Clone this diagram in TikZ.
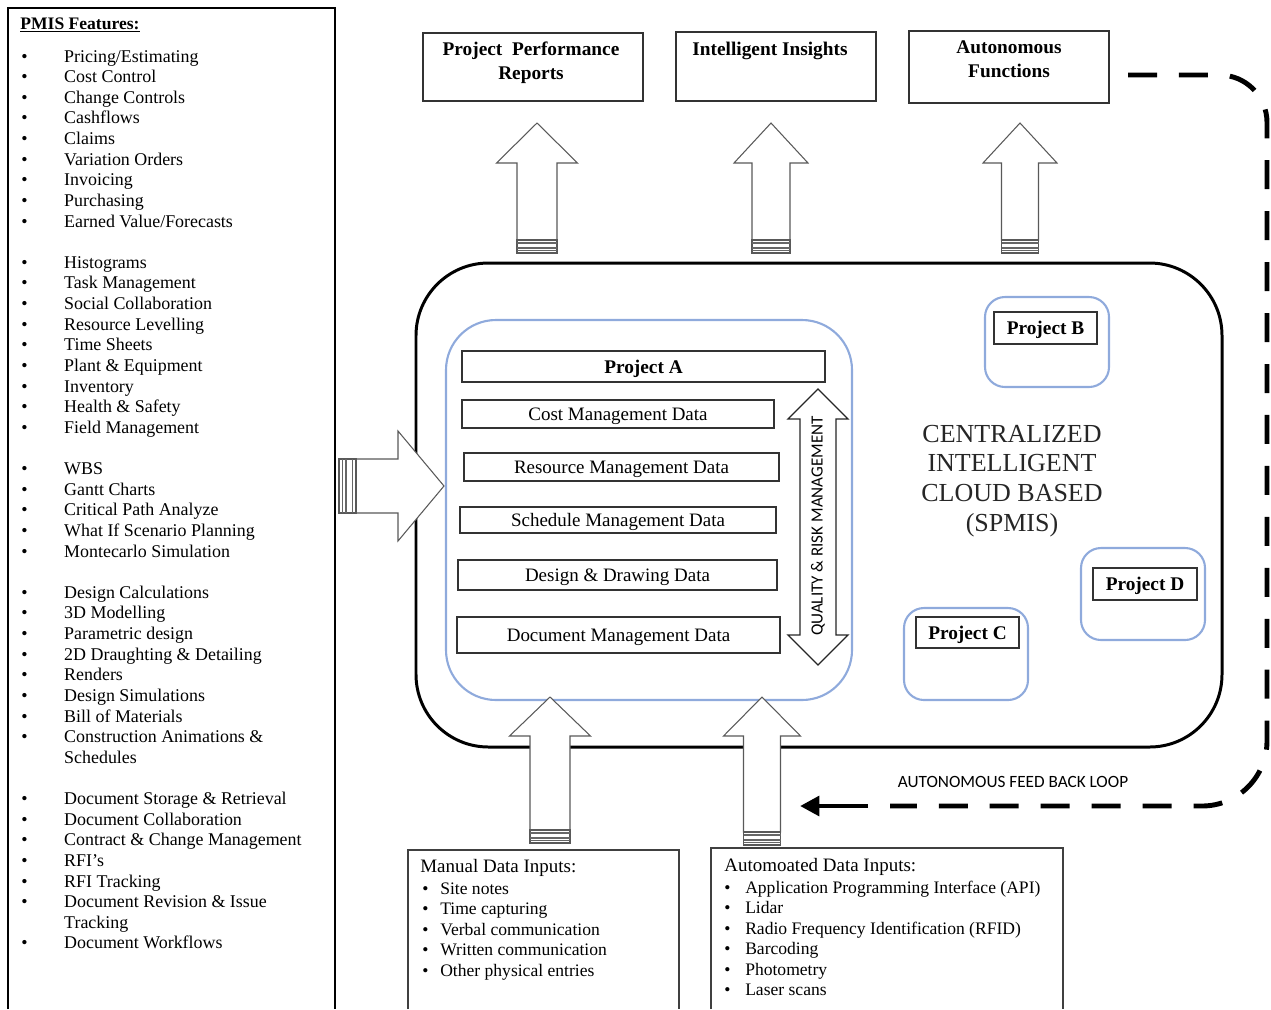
\documentclass[tikz,border=0pt]{standalone}
\usepackage{fontspec}
\setmainfont{Liberation Serif}
\newfontfamily\calibfont{Carlito}
\usetikzlibrary{arrows.meta,fit}
\definecolor{blueline}{RGB}{143,170,220}
\newcommand\pmisb{\textbullet}
\begin{document}
\begin{tikzpicture}[x=0.02cm,y=-0.02cm,
  box/.style={draw=black!80,line width=0.75pt,inner sep=0pt},
  datafont/.style={font=\fontsize{10.8}{13}\selectfont,inner sep=0pt,yshift=-1.3pt},
  projfont/.style={font=\bfseries\fontsize{11}{13}\selectfont,inner sep=0pt,yshift=-1.1pt},
  bluebox/.style={draw=blueline,line width=1.2pt,inner sep=0pt},
  titlefont/.style={font=\bfseries\fontsize{11}{13.4}\selectfont,inner sep=0pt},
  blockarrow/.style={draw=black!65,line width=0.6pt,fill=white},
  stripe/.style={draw=black!60,line width=0.6pt},
  listfont/.style={font=\fontsize{10.2}{11.74}\selectfont,inner sep=0pt},
  itemfont/.style={font=\fontsize{10}{11.65}\selectfont,inner sep=0pt},
  loopline/.style={line width=2.8pt,dash pattern=on 16.5pt off 12.5pt}
]
\useasboundingbox (0,0) rectangle (1271,1009);

% central cloud box
\node[fit={(416,263) (1222,747)},draw,line width=1.7pt,inner sep=0pt,rounded corners=1.45cm] (cloud) {};
% project A container
\node[fit={(446,320) (852,700)},bluebox,rounded corners=1cm] (pacont) {};
\node[fit={(462,351) (825,382)},box] (pa) {};
\node[projfont] (patext) at (pa) {Project A};
\node[fit={(462,400) (774,428)},box] (cost) {};
\node[datafont] (costtext) at (cost) {Cost Management Data};
\node[fit={(464,453) (779,481)},box] (res) {};
\node[datafont] (restext) at (res) {Resource Management Data};
\node[fit={(460,507) (776,533)},box] (sched) {};
\node[datafont] (schedtext) at (sched) {Schedule Management Data};
\node[fit={(458,560) (777,590)},box] (design) {};
\node[datafont] (designtext) at (design) {Design \& Drawing Data};
\node[fit={(457,617) (780,653)},box] (doc) {};
\node[datafont] (doctext) at (doc) {Document Management Data};

% quality double arrow
\draw[draw=black!85,line width=0.75pt,fill=white] (818,389) -- (848,419) -- (836,419) -- (836,635) -- (848,635) -- (818,665) -- (788,635) -- (800,635) -- (800,419) -- (788,419) -- cycle;
\node[rotate=90,font=\calibfont\fontsize{9.7}{11}\selectfont,inner sep=0pt] (qrm) at (818,526) {QUALITY \& RISK MANAGEMENT};

% other projects
\node[fit={(985,297) (1109,387)},bluebox,rounded corners=0.4cm] (pbcont) {};
\node[fit={(994,312) (1097,344)},box] (pb) {};
\node[projfont] (pbtext) at (pb) {Project B};
\node[fit={(1081,548) (1205,640)},bluebox,rounded corners=0.4cm] (pdcont) {};
\node[fit={(1093,568) (1197,600)},box] (pd) {};
\node[projfont] (pdtext) at (pd) {Project D};
\node[fit={(904,608) (1028,700)},bluebox,rounded corners=0.4cm] (pccont) {};
\node[fit={(916,617) (1019,648)},box] (pc) {};
\node[projfont] (pctext) at (pc) {Project C};

\node[align=center,text=black!85,font=\fontsize{14.8}{17}\selectfont,inner sep=0pt] (cloudtext) at (1012,481) {CENTRALIZED\\INTELLIGENT\\CLOUD BASED\\(SPMIS)};

% top output boxes
\node[fit={(423,33) (643,101)},box] (ppr) {};
\node[titlefont,align=center] (pprtext) at (531,63) {Project\ \ Performance\\Reports};
\node[fit={(676,32) (876,101)},box] (ii) {};
\node[titlefont] (iitext) at (770,51) {Intelligent Insights};
\node[fit={(909,31) (1109,103)},box] (af) {};
\node[titlefont,align=center] (aftext) at (1009,59) {Autonomous\\Functions};

% vertical block arrows
\foreach \cx/\ty/\hy/\hw/\sw/\by in {537/123/163/40.5/20/240, 771/123/163/37/19/240, 1020/123/163/37/18.5/240, 550/697/736/40.5/20/830, 762/697/736/38.5/18.5/832}{
  \draw[blockarrow] (\cx,\ty) -- (\cx+\hw,\hy) -- (\cx+\sw,\hy) -- (\cx+\sw,\by) -- (\cx-\sw,\by) -- (\cx-\sw,\hy) -- (\cx-\hw,\hy) -- cycle;
  \draw[blockarrow] (\cx-\sw,\by) rectangle (\cx+\sw,\by+13);
  \draw[stripe] (\cx-\sw,\by+3) -- (\cx+\sw,\by+3) (\cx-\sw,\by+8) -- (\cx+\sw,\by+8) (\cx-\sw,\by+10.5) -- (\cx+\sw,\by+10.5);
}
% horizontal block arrow
\draw[blockarrow] (444,486) -- (398,431) -- (398,459) -- (356,459) -- (356,513) -- (398,513) -- (398,541) -- cycle;
\draw[blockarrow] (339,459) rectangle (356,513);
\draw[stripe] (342.7,459) -- (342.7,513) (346,459) -- (346,513) (352.7,459) -- (352.7,513);

% feedback loop
\coordinate (loopA) at (1128,75);
\coordinate (loopB) at (868,806);
\coordinate (loopEnd) at (800,806);
\draw[loopline,rounded corners=0.95cm] (loopA) -- (1267,75) [rounded corners=1.3cm] -- (1267,806) -- (890,806);
\draw[line width=2.8pt,-{Triangle[length=11pt,width=11pt]}] (loopB) -- (loopEnd);
\node[font=\calibfont\fontsize{9.8}{12}\selectfont,inner sep=0pt] (fbl) at (1013,782) {AUTONOMOUS FEED BACK LOOP};

% bottom input boxes
\coordinate (manTL) at (408,850);
\draw[box,draw=black!75] (408,1009) -- (manTL) -- (679,850) -- (679,1009);
\node[anchor=base west,font=\fontsize{10.8}{13}\selectfont,inner sep=0pt] (manhead) at (420,872) {Manual Data Inputs:};
\node[anchor=base west,itemfont] (manlist) at (422,894.5) {\begin{tabular}[t]{@{}p{10.2pt}@{}l@{}}
\pmisb & Site notes\\
\pmisb & Time capturing\\
\pmisb & Verbal communication\\
\pmisb & Written communication\\
\pmisb & Other physical entries
\end{tabular}};

\coordinate (autoTL) at (711,848);
\draw[box,draw=black!75] (711,1009) -- (autoTL) -- (1063,848) -- (1063,1009);
\node[anchor=base west,font=\fontsize{10.8}{13}\selectfont,inner sep=0pt] (autohead) at (724,871) {Automoated Data Inputs:};
\node[anchor=base west,itemfont] (autolist) at (724,893.5) {\begin{tabular}[t]{@{}p{11.9pt}@{}l@{}}
\pmisb & Application Programming Interface (API)\\
\pmisb & Lidar\\
\pmisb & Radio Frequency Identification (RFID)\\
\pmisb & Barcoding\\
\pmisb & Photometry\\
\pmisb & Laser scans
\end{tabular}};

% left features box
\coordinate (featTL) at (8,8);
\draw[line width=1.2pt] (8,1009) -- (featTL) -- (335,8) -- (335,1009);
\node[anchor=base west,font=\bfseries\fontsize{10}{12}\selectfont,inner sep=0pt] (pmishead) at (20,29) {\underline{PMIS Features:}};
\node[anchor=base west,listfont] (pmislist) at (21,62) {\begin{tabular}[t]{@{}p{24.4pt}@{}l@{}}
\pmisb & Pricing/Estimating\\
\pmisb & Cost Control\\
\pmisb & Change Controls\\
\pmisb & Cashflows\\
\pmisb & Claims\\
\pmisb & Variation Orders\\
\pmisb & Invoicing\\
\pmisb & Purchasing\\
\pmisb & Earned Value/Forecasts\\
 & \\
\pmisb & Histograms\\
\pmisb & Task Management\\
\pmisb & Social Collaboration\\
\pmisb & Resource Levelling\\
\pmisb & Time Sheets\\
\pmisb & Plant \& Equipment\\
\pmisb & Inventory\\
\pmisb & Health \& Safety\\
\pmisb & Field Management\\
 & \\
\pmisb & WBS\\
\pmisb & Gantt Charts\\
\pmisb & Critical Path Analyze\\
\pmisb & What If Scenario Planning\\
\pmisb & Montecarlo Simulation\\
 & \\
\pmisb & Design Calculations\\
\pmisb & 3D Modelling\\
\pmisb & Parametric design\\
\pmisb & 2D Draughting \& Detailing\\
\pmisb & Renders\\
\pmisb & Design Simulations\\
\pmisb & Bill of Materials\\
\pmisb & Construction Animations \&\\
 & Schedules\\
 & \\
\pmisb & Document Storage \& Retrieval\\
\pmisb & Document Collaboration\\
\pmisb & Contract \& Change Management\\
\pmisb & RFI's\\
\pmisb & RFI Tracking\\
\pmisb & Document Revision \& Issue\\
 & Tracking\\
\pmisb & Document Workflows
\end{tabular}};
\end{tikzpicture}
\end{document}
